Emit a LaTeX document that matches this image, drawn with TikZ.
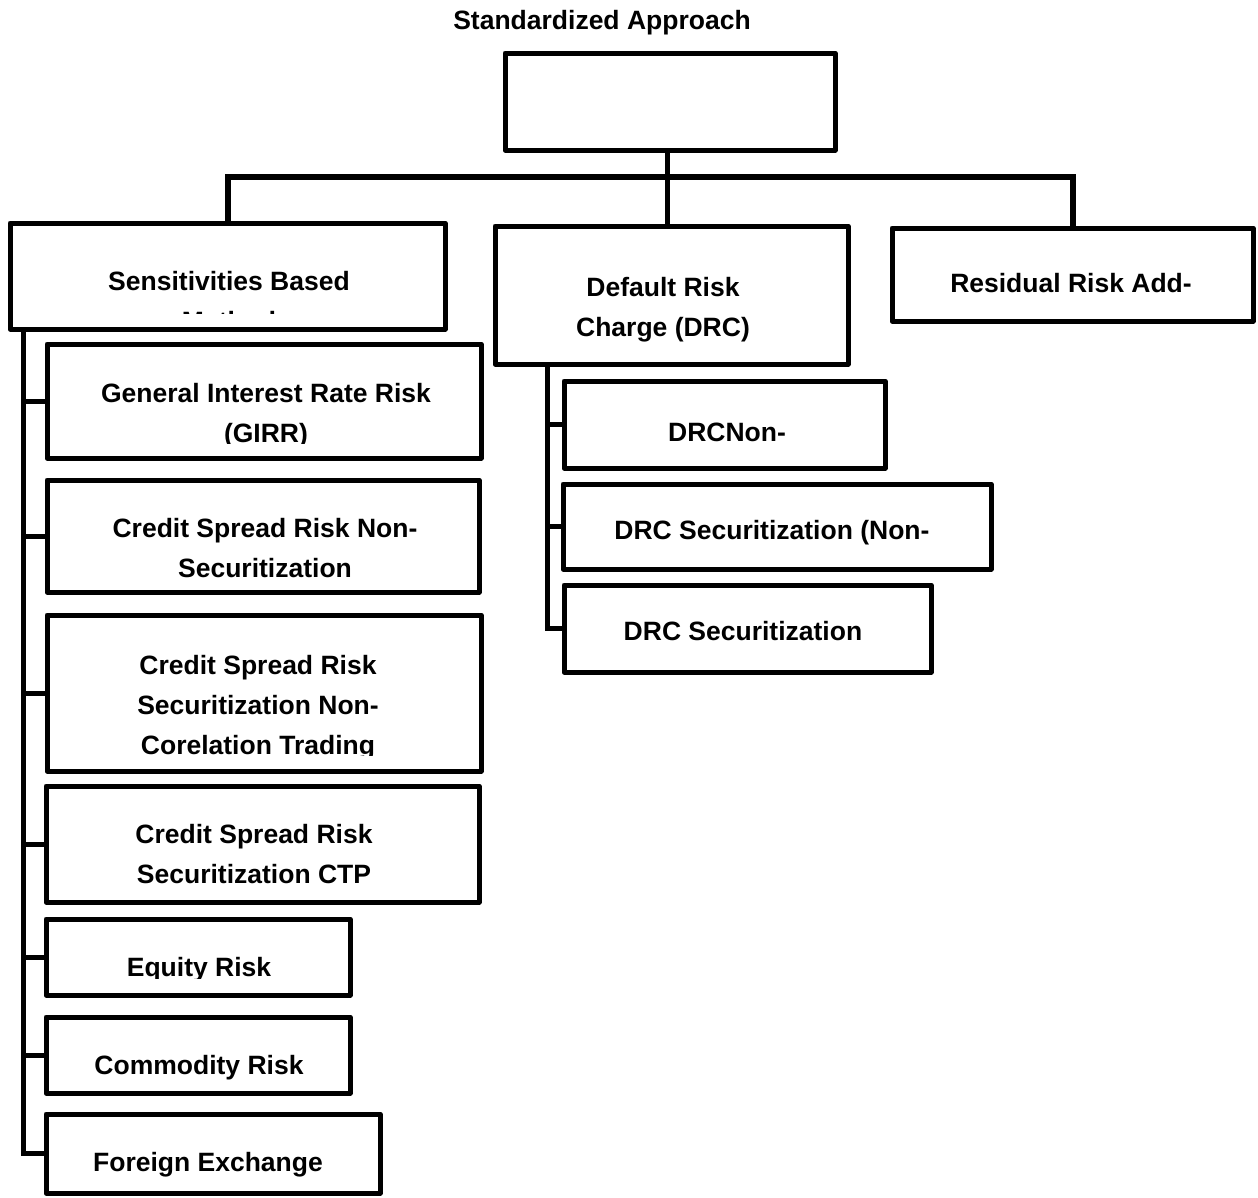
\documentclass[tikz,border=0pt]{standalone}
\usepackage{fontspec}
\setmainfont{Liberation Sans}
\usepackage{tikz}

\begin{document}
\begin{tikzpicture}[x=1pt, y=-1pt,
  every node/.style={font=\fontsize{26.5}{40}\selectfont\bfseries},
  riskbox/.style={rectangle, draw, line width=5pt, line join=round, inner sep=0pt, outer sep=0pt},
  boxtext/.style={align=center, inner sep=0pt},
  branch/.style={line width=5pt}]
  \useasboundingbox (0,0) rectangle (1258,1197);

  % root
  \node[boxtext] (title) at (602,23) {Standardized Approach};
  \node[riskbox, minimum width=330pt, minimum height=97pt] (root) at (670,101.5) {};

  % first level
  \node[riskbox, minimum width=435pt, minimum height=106pt] (sbm) at (227.5,276) {};
  \node[riskbox, minimum width=353pt, minimum height=138pt] (drc) at (671.5,295) {};
  \node[riskbox, minimum width=361pt, minimum height=93pt] (rra) at (1072.5,274.5) {};

  % sensitivities branch
  \node[riskbox, minimum width=434pt, minimum height=114pt] (girr) at (264,401) {};
  \node[riskbox, minimum width=432pt, minimum height=112pt] (csrns) at (263,536) {};
  \node[riskbox, minimum width=434pt, minimum height=156pt] (csrnct) at (264,693) {};
  \node[riskbox, minimum width=433pt, minimum height=116pt] (ctp) at (262.5,844) {};
  \node[riskbox, minimum width=304pt, minimum height=76pt] (eq) at (198,957) {};
  \node[riskbox, minimum width=304pt, minimum height=76pt] (com) at (198,1055) {};
  \node[riskbox, minimum width=334pt, minimum height=79pt] (fx) at (213,1153.5) {};

  % default risk branch
  \node[riskbox, minimum width=321pt, minimum height=87pt] (drc1) at (724.5,424.5) {};
  \node[riskbox, minimum width=428pt, minimum height=85pt] (drc2) at (777,526.5) {};
  \node[riskbox, minimum width=367pt, minimum height=87pt] (drc3) at (747.5,628.5) {};

  % labels
  \begin{scope}
    \clip (12,225) rectangle (443,313);
    \node[boxtext] (sbmtext) at (229,301) {Sensitivities Based\\Method};
  \end{scope}
  \node[boxtext] (drctext) at (663,310) {Default Risk\\Charge (DRC)};
  \node[boxtext] (rratext) at (1071,283) {Residual Risk Add-};
  \begin{scope}
    \clip (49,346) rectangle (479,443);
    \node[boxtext] (girrtext) at (266,416) {General Interest Rate Risk\\(GIRR)};
  \end{scope}
  \node[boxtext] (csrnstext) at (265,548.5) {Credit Spread Risk Non-\\Securitization};
  \begin{scope}
    \clip (49,617) rectangle (479,755);
    \node[boxtext] (csrncttext) at (258,708) {Credit Spread Risk\\Securitization Non-\\Corelation Trading};
  \end{scope}
  \node[boxtext] (ctptext) at (254,854.5) {Credit Spread Risk\\Securitization CTP};
  \begin{scope}
    \clip (48,921) rectangle (348,978);
    \node[boxtext] (eqtext) at (199,970) {Equity Risk};
  \end{scope}
  \node[boxtext] (comtext) at (199,1068) {Commodity Risk};
  \node[boxtext] (fxtext) at (208,1165) {Foreign Exchange};
  \node[boxtext] (drc1text) at (727,432) {DRCNon-};
  \node[boxtext] (drc2text) at (772,533) {DRC Securitization (Non-};
  \node[boxtext] (drc3text) at (743,631) {DRC Securitization};

  % connectors
  \coordinate (bus) at (667.5,176.5);
  \draw[branch, line width=6pt] (sbm.north) |- (bus) -| (rra.north);
  \draw[branch] (root.south -| bus) -- (drc.north -| bus);

  \coordinate (sbmtrunk) at ([xshift=13.5pt]sbm.south west);
  \draw[branch] (sbmtrunk) |- (fx.west);
  \foreach \b in {girr,csrns,csrnct,ctp,eq,com}
    \draw[branch] (sbmtrunk |- \b.west) -- (\b.west);

  \coordinate (drctrunk) at ([xshift=52pt]drc.south west);
  \draw[branch] (drctrunk) |- (drc3.west);
  \foreach \b in {drc1,drc2}
    \draw[branch] (drctrunk |- \b.west) -- (\b.west);
\end{tikzpicture}
\end{document}
